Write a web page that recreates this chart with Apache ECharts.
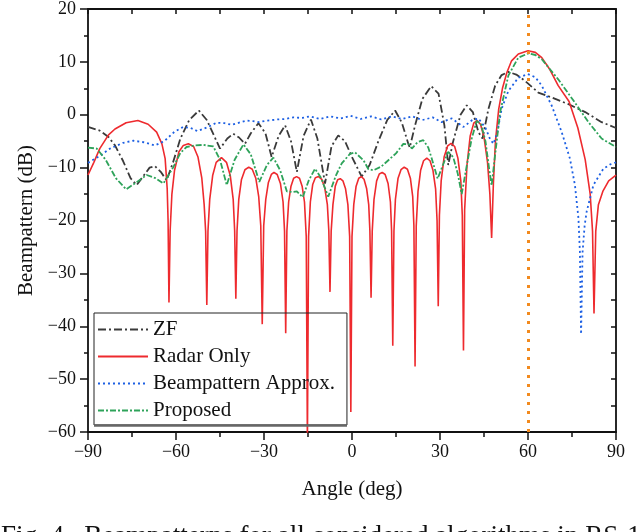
<!DOCTYPE html>
<html>
<head>
<meta charset="utf-8">
<script src="https://cdn.jsdelivr.net/npm/echarts@6/dist/echarts.min.js"></script>
<style>
  html, body { margin: 0; padding: 0; background: #fff; }
  #beam-chart { width: 640px; height: 532px; }
</style>
</head>
<body>
<div id="beam-chart"></div>
<script>
var seriesNames = ['ZF', 'Radar Only', 'Beampattern Approx.', 'Proposed'];
var xTicks = [-90, -60, -30, 0, 30, 60, 90];
var yTicks = [-60, -50, -40, -30, -20, -10, 0, 10, 20];
var targetAngle = 60;

// [angle (deg), beampattern (dB)]
var zfData = [[-90,-2.3],[-86,-3.0],[-83,-4.2],[-80.8,-5.8],[-78,-8.8],[-75.5,-12],[-73.4,-13.3],[-71,-11.5],[-69,-10],[-67.2,-9.7],[-65.2,-10.8],[-63.2,-12.4],[-61,-9],[-58.5,-4.5],[-55.5,-1],[-52.2,0.8],[-49.5,-1],[-47,-4],[-45,-6.4],[-42.5,-4.5],[-40.5,-3.6],[-38.5,-4.3],[-36.5,-5.5],[-34.5,-3.5],[-31.9,-1.6],[-29.5,-3.5],[-27.4,-8],[-25,-4],[-22.8,-2.0],[-20.8,-5],[-18.8,-10.8],[-16.5,-4],[-14,-0.9],[-11.8,-4.5],[-9.2,-13],[-7,-6],[-4.7,-3.9],[-2.4,-5],[0,-8],[3.3,-11.7],[6,-9.5],[9,-5],[12,-1],[14.7,0.8],[17,-1.5],[19.2,-5.5],[19.7,-6.2],[21.5,-2],[24,3],[27,5.4],[29.5,4],[31.5,-2],[32.8,-9.5],[34.5,-5],[37,0],[39.1,1.8],[41.2,0.5],[43.1,-3.3],[44.5,-4.5],[46.5,1.1],[48.8,5.5],[51,7.5],[53.3,8.1],[56,7.6],[59,6.4],[63.5,4.2],[67,3.5],[73.8,2.0],[79.5,0.5],[85.1,-1.4],[90,-2.5]];

var radarData = [[-90,-11.4],[-88,-9],[-86,-6.4],[-83,-3.8],[-80.8,-2.7],[-77,-1.5],[-73,-1.1],[-69.5,-1.8],[-66.6,-3.3],[-64.8,-5.5],[-63.7,-8.3],[-63,-14],[-62.7,-20],[-62.4,-35.5],
  [-62,-22],[-61.4,-15],[-60.5,-10.5],[-59,-7],[-57.5,-5.8],[-55.8,-5.5],[-54,-6],[-52.5,-8],[-51.2,-12],[-50.4,-17],[-49.9,-22],[-49.5,-36],
  [-49.1,-22],[-48.5,-16],[-47.5,-11.5],[-46.3,-9],[-44.5,-8.1],[-42.8,-9],[-41.5,-11.5],[-40.5,-16],[-40,-22],[-39.6,-34.8],
  [-39.2,-22],[-38.6,-16],[-37.7,-12.3],[-36.5,-10.4],[-35.2,-9.9],[-34,-10.3],[-32.8,-12],[-31.8,-15.5],[-31.1,-21],[-30.6,-39.6],
  [-30.1,-21],[-29.4,-16],[-28.5,-12.8],[-27.5,-11.3],[-26.6,-10.9],[-25.5,-11.3],[-24.4,-13],[-23.5,-16.5],[-23,-22],[-22.6,-41.3],
  [-22.2,-22],[-21.6,-16.5],[-20.8,-13.5],[-19.9,-12],[-18.9,-11.7],[-17.9,-12],[-17,-13.5],[-16.2,-16.5],[-15.6,-23],[-15.2,-62],
  [-14.8,-23],[-14.2,-16.5],[-13.4,-13.2],[-12.5,-11.9],[-11.4,-11.7],[-10.3,-12.2],[-9.3,-13.8],[-8.4,-17],[-7.9,-22],[-7.5,-33.5],
  [-7.1,-22],[-6.5,-17],[-5.7,-13.5],[-4.9,-12.3],[-4,-12.1],[-3.1,-12.5],[-2.2,-14],[-1.4,-17],[-0.8,-23],[-0.4,-56.2],
  [0,-23],[0.6,-17],[1.4,-13.5],[2.3,-12],[3.2,-11.7],[4.1,-12.2],[5,-14],[5.7,-17],[6.1,-22],[6.5,-34.6],
  [6.9,-22],[7.5,-16],[8.4,-12.5],[9.3,-11.2],[10.3,-10.9],[11.3,-11.3],[12.3,-13],[13.1,-16.5],[13.5,-22],[13.9,-43.7],
  [14.3,-22],[14.8,-16],[15.7,-12],[16.7,-10.4],[17.8,-9.9],[18.9,-10.3],[19.9,-12],[20.7,-15.5],[21.1,-21],[21.5,-47.6],
  [21.9,-21],[22.5,-14.5],[23.4,-10.5],[24.4,-8.7],[25.5,-8.2],[26.6,-8.7],[27.6,-10.5],[28.5,-14],[29,-20],[29.4,-36.2],
  [29.8,-19],[30.4,-12.5],[31.4,-8],[32.6,-5.9],[33.8,-5.4],[35,-6],[36.1,-8.2],[37.1,-12.5],[37.6,-19],[38,-44.6],
  [38.4,-18],[39.2,-9.5],[40.3,-4],[41.5,-1.6],[42.6,-1.1],[43.8,-1.8],[45,-4.2],[46.2,-9],[47,-15],[47.6,-23.3],
  [48.2,-13],[48.9,-5],[50,1],[51.3,5],[52.8,8],[54.4,10.2],[56.7,11.5],[60,12.1],[62.5,11.8],[64.7,10.8],[67.5,8.5],[70.3,5.5],[74,2.5],[77,-2.5],[79.5,-8.5],[81.2,-15],[82,-22],[82.5,-37.6],
  [83.1,-22],[84,-17],[85.5,-14.5],[87.5,-12.5],[90,-11.4]];

var approxData = [[-90,-9.1],[-86,-7.8],[-82.5,-6.4],[-78,-5.3],[-74.5,-4.9],[-71,-5.2],[-67.2,-5.8],[-64,-5],[-60.5,-3.2],[-57.5,-2.3],[-55,-2.5],[-52.7,-3.1],[-49.5,-2.4],[-46.1,-1.5],[-43.5,-1.6],[-41,-1.9],[-38.5,-1.5],[-35.9,-1.1],[-33.8,-1.2],[-31.9,-1.4],[-28.8,-1.1],[-25.7,-0.9],[-22.8,-0.8],[-20,-0.5],[-17,-0.6],[-14.3,-0.3],[-11,-0.8],[-7.5,-0.3],[-4,-0.7],[-0.5,-0.2],[3,-0.8],[6.5,-0.3],[10,-0.9],[13.5,-0.3],[17,-0.8],[20.5,-0.3],[24,-1.0],[27.5,-0.5],[30.5,-1.4],[34,-0.7],[38,-2.3],[41,-1.0],[43.1,-0.7],[45.5,-2.5],[47,-4.5],[48.2,-5.5],[49.5,-3.5],[51,1.1],[53.3,4.5],[56.7,7.0],[59.9,7.7],[62.5,7.1],[64.7,5.5],[68.1,1.7],[71.5,-3.3],[74.3,-8.3],[76,-13.3],[77.2,-19.6],[77.7,-26],[78.1,-41.5],[78.6,-26],[79.3,-21],[80,-18.3],[82.3,-13.3],[85.7,-10.2],[88,-9.4],[90,-9.0]];

var proposedData = [[-90,-6.2],[-87,-6.4],[-84,-8.5],[-80.5,-12],[-77,-14.1],[-73.5,-12.8],[-70,-11.4],[-67,-12],[-64.3,-13.0],[-61,-10],[-58.5,-7.2],[-56.4,-6.1],[-53.5,-5.8],[-50.7,-5.7],[-47.3,-6],[-45,-8.5],[-42.7,-13.3],[-40,-8.5],[-37,-5.6],[-34.5,-7.5],[-31.6,-12.7],[-29,-9.5],[-26.8,-8.1],[-24.5,-10.5],[-22.2,-14.5],[-20.5,-14.6],[-18.8,-14.5],[-16.8,-15.6],[-14.8,-12.5],[-12.6,-10.2],[-10.5,-12],[-8.1,-15.5],[-5.5,-11.5],[-3.5,-9.2],[-0.7,-7.4],[1,-7.1],[3.9,-8.6],[5.6,-10.3],[7.3,-10.5],[10,-9.8],[12.4,-8.6],[15,-7.3],[17.5,-5.5],[19.4,-5.6],[20.4,-6.4],[22.3,-5.2],[24.3,-4.8],[26,-6.2],[27.2,-8.3],[29.2,-12.1],[31,-9.5],[32.8,-7.0],[34.5,-8],[36,-11],[37.4,-15],[39,-10],[40.8,-4.5],[42.5,-1.2],[44,-1.8],[45.5,-5],[46.7,-10],[47.6,-13.4],[48.7,-8],[50.5,0.5],[53.3,7.4],[56.7,10.8],[60.1,11.6],[62.5,11.3],[64.7,10.5],[70.3,6.7],[76,2.3],[80.6,-1.4],[85.1,-4.5],[90,-6.1]];

var chart = echarts.init(document.getElementById('beam-chart'));

var serif = 'Liberation Serif';
function minus(v) { return String(v).replace('-', '\u2212'); }

var option = {
    animation: false,
    backgroundColor: '#fff',
    grid: { left: 88, right: 24, top: 6, bottom: 100 },
    legend: {
        data: seriesNames,
        orient: 'vertical',
        left: 94,
        top: 313,
        padding: [6, 12, 4, 3],
        itemGap: 6,
        itemWidth: 50,
        itemHeight: 14,
        borderColor: '#222',
        borderWidth: 1,
        itemStyle: { opacity: 0 },
        textStyle: { fontFamily: serif, fontSize: 21, color: '#111' }
    },
    xAxis: [
        {
            type: 'value', min: -90, max: 90, interval: 30,
            name: 'Angle (deg)', nameLocation: 'middle', nameGap: 47,
            nameTextStyle: { fontFamily: serif, fontSize: 21, color: '#111' },
            axisLine: { onZero: false, lineStyle: { color: '#111', width: 1.8 } },
            axisTick: { inside: false, length: 8, lineStyle: { color: '#111', width: 1.5 } },
            minorTick: { show: true, splitNumber: 2, length: 5, lineStyle: { color: '#111', width: 1.5 } },
            axisLabel: { fontFamily: serif, fontSize: 18, color: '#111', margin: 11,
                formatter: function (v) { return xTicks.indexOf(v) >= 0 ? minus(v) : ''; } },
            splitLine: { show: false }
        },
        {
            type: 'value', min: -90, max: 90, interval: 15, position: 'top',
            axisLine: { onZero: false, lineStyle: { color: '#111', width: 1.8 } },
            axisTick: { inside: true, length: 5, lineStyle: { color: '#111', width: 1.5 } },
            axisLabel: { show: false },
            splitLine: { show: false }
        }
    ],
    yAxis: [
        {
            type: 'value', min: -60, max: 20, interval: 10,
            name: 'Beampattern (dB)', nameLocation: 'middle', nameGap: 44,
            nameTextStyle: { fontFamily: serif, fontSize: 21, color: '#111' },
            axisLine: { show: true, onZero: false, lineStyle: { color: '#111', width: 1.8 } },
            axisTick: { show: true, inside: false, length: 8, lineStyle: { color: '#111', width: 1.5 } },
            minorTick: { show: true, splitNumber: 2, length: 4, lineStyle: { color: '#111', width: 1.5 } },
            axisLabel: { fontFamily: serif, fontSize: 18, color: '#111', margin: 12,
                formatter: function (v) { return yTicks.indexOf(v) >= 0 ? minus(v) : ''; } },
            splitLine: { show: false }
        },
        {
            type: 'value', min: -60, max: 20, interval: 5, position: 'right',
            axisLine: { show: true, onZero: false, lineStyle: { color: '#111', width: 1.8 } },
            axisTick: { show: true, inside: true, length: 5, lineStyle: { color: '#111', width: 1.5 } },
            axisLabel: { show: false },
            splitLine: { show: false }
        }
    ],
    series: [
        {
            name: 'ZF', type: 'line', data: zfData, symbol: 'none',
            color: '#3a3a3a',
            lineStyle: { color: '#3a3a3a', width: 1.8, type: [8, 3, 2, 3] }
        },
        {
            name: 'Radar Only', type: 'line', data: radarData, symbol: 'none',
            color: '#ee2a2e',
            lineStyle: { color: '#ee2a2e', width: 1.6, type: 'solid' },
            markLine: {
                silent: true, symbol: 'none', label: { show: false },
                lineStyle: { color: '#f28a1e', width: 3, type: [3, 6] },
                data: [{ xAxis: targetAngle }]
            }
        },
        {
            name: 'Beampattern Approx.', type: 'line', data: approxData, symbol: 'none',
            color: '#1c5fe3',
            lineStyle: { color: '#1c5fe3', width: 1.8, type: [2, 3] }
        },
        {
            name: 'Proposed', type: 'line', data: proposedData, symbol: 'none',
            color: '#2ea35a',
            lineStyle: { color: '#2ea35a', width: 1.8, type: [6, 2, 2, 2] }
        }
    ],
    graphic: [
        {
            // heavier grey lower edge of the legend box
            type: 'line', z: 100,
            shape: { x1: 94, y1: 425.5, x2: 347, y2: 425.5 },
            style: { stroke: '#666', lineWidth: 2.5 }
        },
        {
            type: 'text', left: 1, top: 523,
            style: { text: 'Fig. 4.  Beampatterns for all considered algorithms in RS-1', fontFamily: serif, fontSize: 27, fill: '#111' }
        }
    ]
};

chart.setOption(option);
</script>
</body>
</html>
